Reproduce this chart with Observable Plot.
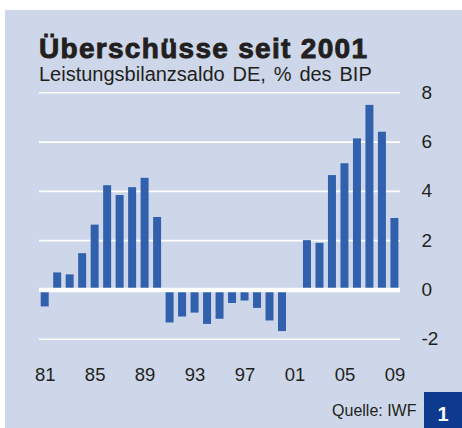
<!DOCTYPE html>
<html>
<head>
<meta charset="utf-8">
<script src="https://cdn.jsdelivr.net/npm/d3@7"></script>
<script src="https://cdn.jsdelivr.net/npm/@observablehq/plot@0.6"></script>
<style>
  html, body { margin: 0; padding: 0; background: #ffffff; }
  body { width: 462px; height: 428px; position: relative; overflow: hidden; font-family: "Liberation Sans", Arial, sans-serif; }
  #panel { position: absolute; left: 5px; top: 10px; width: 457px; height: 418px; background: #cdd7e9; }
  .t { position: absolute; white-space: nowrap; color: #231f20; line-height: 1; }
  #title { left: 39px; top: 34.6px; font-size: 28px; font-weight: bold; letter-spacing: 1.3px; -webkit-text-stroke: 0.9px #231f20; }
  #subtitle { left: 39px; top: 64px; font-size: 20px; word-spacing: 2.3px; }
  #source { right: 45.5px; top: 402.5px; font-size: 16px; }
  #badge { position: absolute; left: 424px; top: 392px; width: 38px; height: 36px; background: #0d3a8f; }
  #badgeNum { position: absolute; left: 0; width: 38px; text-align: center; top: 12px; color: #ffffff; font-size: 20px; font-weight: bold; line-height: 1; }
  #chart { position: absolute; left: 0; top: 0; }
</style>
</head>
<body>
<div id="panel"></div>
<div id="chart"></div>
<div class="t" id="title">Überschüsse seit 2001</div>
<div class="t" id="subtitle">Leistungsbilanzsaldo DE, % des BIP</div>
<div class="t" id="source">Quelle: IWF</div>
<div id="badge"><div id="badgeNum">1</div></div>
<script>
const years = [1981,1982,1983,1984,1985,1986,1987,1988,1989,1990,1991,1992,1993,1994,1995,1996,1997,1998,1999,2000,2001,2002,2003,2004,2005,2006,2007,2008,2009];
const values = [-0.69,0.69,0.61,1.47,2.63,4.23,3.83,4.15,4.53,2.94,-1.34,-1.10,-0.94,-1.40,-1.19,-0.55,-0.45,-0.75,-1.26,-1.69,0.0,2.0,1.89,4.64,5.12,6.13,7.49,6.40,2.90];
const xTicks = [1981,1985,1989,1993,1997,2001,2005,2009];
const yTicks = [-2,0,2,4,6,8];
const gridValues = [-2,2,4,6,8];

const data = years.map((y, i) => ({year: y, value: values[i]}));

const chart = Plot.plot({
  width: 462,
  height: 428,
  marginLeft: 39,
  marginRight: 62,
  marginTop: 92.3,
  marginBottom: 89.3,
  style: {background: "transparent", fontFamily: "Liberation Sans, Arial, sans-serif", color: "#231f20"},
  x: {type: "band", domain: years, range: [36.2, 402.9], padding: 0.36, round: false},
  y: {domain: [-2, 8]},
  marks: [
    Plot.ruleY(gridValues, {stroke: "#ffffff", strokeWidth: 1.6}),
    Plot.barY(data, {x: "year", y: "value", fill: "#3161ad"}),
    Plot.ruleY([0], {stroke: "#ffffff", strokeWidth: 4.5}),
    Plot.axisX({ticks: xTicks, tickSize: 0, tickPadding: 29, fontSize: 18.5, tickFormat: d => String(d % 100).padStart(2, "0"), label: null}),
    Plot.axisY({anchor: "right", ticks: yTicks, tickSize: 0, tickPadding: 21, fontSize: 19, tickFormat: d => String(d), label: null})
  ]
});
document.getElementById("chart").appendChild(chart);
</script>
</body>
</html>
